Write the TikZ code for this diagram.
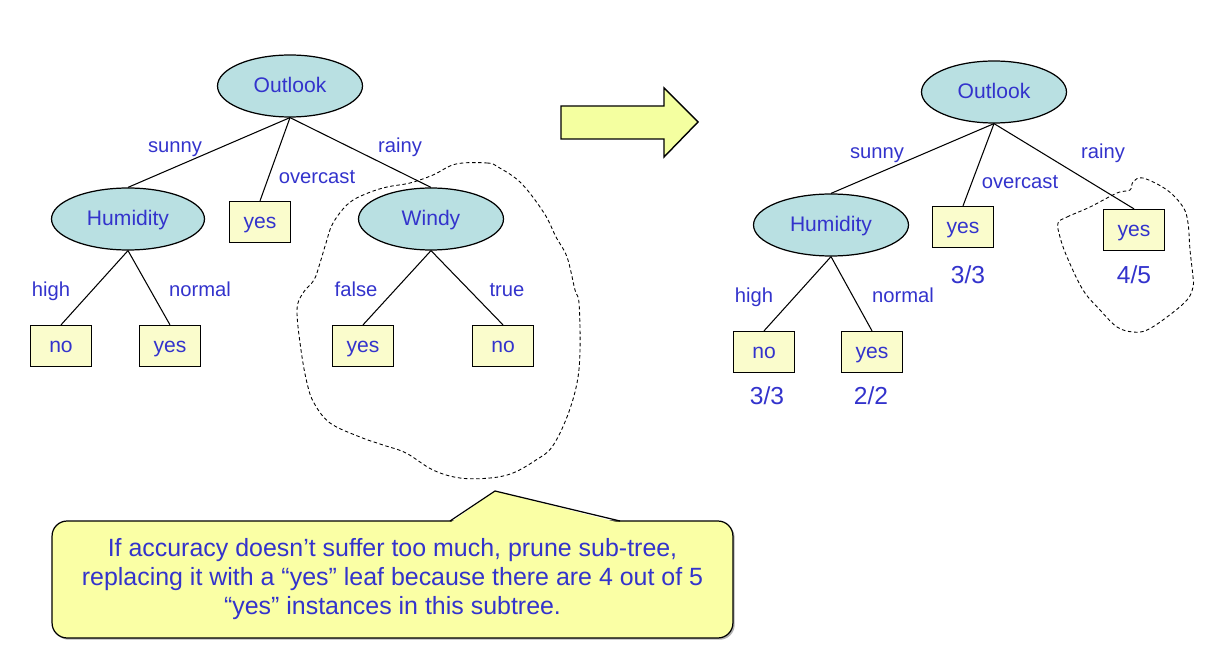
\documentclass[tikz,border=0pt]{standalone}
\usepackage{fontspec}
\setmainfont{Liberation Sans}
\usetikzlibrary{shapes.geometric, shadows}
\definecolor{labelblue}{RGB}{51,51,204}
\definecolor{attrfill}{RGB}{185,224,226}
\definecolor{leaffill}{RGB}{250,252,204}
\definecolor{arrowfill}{RGB}{244,255,160}
\definecolor{notefill}{RGB}{250,255,165}
\tikzset{
    attr/.style={ellipse, draw, line width=0.7pt, fill=attrfill, minimum width=2.9cm, minimum height=1.24cm, inner sep=0pt, text height=7.6pt, text depth=0pt, text=labelblue, font=\fontsize{12}{14}\selectfont},
    leaf/.style={rectangle, draw, line width=0.7pt, fill=leaffill, minimum width=1.22cm, minimum height=0.82cm, inner sep=0pt, text height=7pt, text depth=0pt, text=labelblue, font=\fontsize{12}{14}\selectfont},
    branch/.style={anchor=base, text=labelblue, inner sep=0pt, font=\fontsize{11.5}{13}\selectfont},
    ratio/.style={anchor=base, text=labelblue, inner sep=0pt, font=\fontsize{14}{16}\selectfont},
    blob/.style={dashed, dash pattern=on 2pt off 1.5pt, line width=0.5pt},
}

\begin{document}
\begin{tikzpicture}[x=0.02cm, y=-0.02cm, line width=0.6pt]
            \useasboundingbox (0,0) rectangle (1230,658);
            \node[attr] (O1) at (290,86) {Outlook};
            \node[attr, minimum width=3.06cm] (H1) at (128,219) {Humidity};
            \node[attr] (W1) at (431,219) {Windy};
            \node[leaf] (Y1) at (260,222) {yes};
            \node[leaf] (N1) at (61,346) {no};
            \node[leaf] (Y2) at (170,346) {yes};
            \node[leaf] (Y3) at (363,346) {yes};
            \node[leaf] (N2) at (503,346) {no};
            \draw (O1.south) -- (H1.north);
            \draw (O1.south) -- (Y1.north);
            \draw (O1.south) -- (W1.north);
            \draw (H1.south) -- (N1.north);
            \draw (H1.south) -- (Y2.north);
            \draw (W1.south) -- (Y3.north);
            \draw (W1.south) -- (N2.north);
            \node[branch] (s1) at (175,153) {sunny};
            \node[branch] (o1) at (317,184) {overcast};
            \node[branch] (r1) at (400,153) {rainy};
            \node[branch] (h1) at (51,297) {high};
            \node[branch] (n1) at (200,297) {normal};
            \node[branch] (f1) at (356,297) {false};
            \node[branch] (t1) at (507,297) {true};
            \draw[blob] plot[smooth cycle, tension=0.6] coordinates {(456,164) (487,163) (498,167) (521,183) (544,213) (556,237) (567,257) (575,290) (579,303) (580,350) (577,383) (567,417) (552,447) (536,460) (513,473) (490,478) (460,478) (433,470) (406,453) (383,445) (360,437) (330,423) (314,403) (307,383) (301,350) (297,310) (303,293) (314,280) (320,263) (326,243) (333,223) (349,203) (368,193) (387,187) (410,183) (433,175)};
            \filldraw[fill=arrowfill, line width=0.8pt] (561,106) -- (664,106) -- (664,88) -- (698,122) -- (664,157) -- (664,139) -- (561,139) -- cycle;
            \node[attr] (O2) at (994,92) {Outlook};
            \node[attr, minimum width=3.1cm] (H2) at (831,225) {Humidity};
            \node[leaf] (Y4) at (963,227) {yes};
            \node[leaf] (Y5) at (1134,230) {yes};
            \node[leaf] (N3) at (764,352) {no};
            \node[leaf] (Y6) at (872,352) {yes};
            \draw (O2.south) -- (H2.north);
            \draw (O2.south) -- (Y4.north);
            \draw (O2.south) -- (Y5.north);
            \draw (H2.south) -- (N3.north);
            \draw (H2.south) -- (Y6.north);
            \node[branch] (s2) at (877,159) {sunny};
            \node[branch] (o2) at (1020,189) {overcast};
            \node[branch] (r2) at (1103,159) {rainy};
            \node[branch] (h2) at (754,303) {high};
            \node[branch] (n2) at (903,303) {normal};
            \node[ratio] (q1) at (968,284) {3/3};
            \node[ratio] (q2) at (1134,284) {4/5};
            \node[ratio] (q3) at (767,404) {3/3};
            \node[ratio] (q4) at (871,404) {2/2};
            \draw[blob] plot[smooth cycle, tension=0.6] coordinates {(1058,223) (1067,217) (1090,207) (1117,193) (1130,190) (1133,182) (1143,178) (1167,190) (1183,207) (1188,223) (1190,250) (1193,277) (1193,287) (1187,300) (1167,317) (1147,330) (1133,332) (1117,327) (1100,310) (1083,290) (1067,257) (1060,237)};
            \node[draw, fill=notefill, line width=0.7pt, rounded corners=0.3cm, minimum width=13.62cm, minimum height=2.34cm, align=center, text=labelblue, font=\fontsize{14.2}{16.5}\selectfont, drop shadow={shadow xshift=1pt, shadow yshift=-1pt, opacity=0.6}] (C1) at (392.5,579.5) {If accuracy doesn’t suffer too much, prune sub-tree,\\replacing it with a “yes” leaf because there are 4 out of 5\\“yes” instances in this subtree.};
            \fill[notefill] (450,523) -- (495,491) -- (620,523) -- cycle;
            \draw[line width=0.7pt] (450,521) -- (495,491) -- (620,521);
\end{tikzpicture}
\end{document}
